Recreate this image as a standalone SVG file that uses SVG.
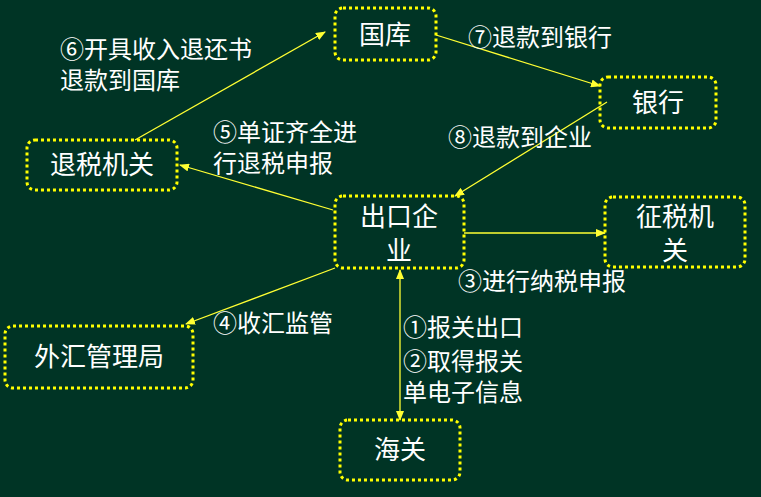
<svg xmlns="http://www.w3.org/2000/svg" width="761" height="497" viewBox="0 0 761 497">
<defs>
<marker id="ah" markerWidth="10" markerHeight="8" refX="9" refY="4" orient="auto" markerUnits="userSpaceOnUse"><path d="M0,0 L10,4 L0,8 Z" fill="#ffff33"/></marker>
<marker id="as" markerWidth="10" markerHeight="8" refX="1" refY="4" orient="auto" markerUnits="userSpaceOnUse"><path d="M10,0 L0,4 L10,8 Z" fill="#ffff33"/></marker>
<style>
.n{fill:none;stroke:#ffff00;stroke-width:3;stroke-dasharray:3 3}
.t{fill:#fff;font-family:"Noto Sans CJK SC",sans-serif;font-size:26px;text-anchor:middle}
.l{fill:#fff;font-family:"Noto Sans CJK SC",sans-serif;font-size:24px}
.c line{stroke:#ffff33;stroke-width:1.3;marker-end:url(#ah)}
</style>
</defs>
<rect width="761" height="497" fill="#003425"/>
<g class="c" id="connectors">
<line x1="135" y1="140" x2="325" y2="32"/>
<line x1="436" y1="35" x2="600" y2="86"/>
<line x1="607" y1="102" x2="455" y2="196"/>
<line x1="333" y1="210" x2="180" y2="165"/>
<line x1="464" y1="233" x2="605" y2="233"/>
<line x1="335" y1="268" x2="186" y2="324"/>
<line x1="400" y1="270" x2="400" y2="420" marker-start="url(#as)"/>
</g>
<g id="guoku"><rect class="n" x="335" y="8" width="101" height="52" rx="8"/><text class="t" x="385" y="44">国库</text></g>
<g id="yinhang"><rect class="n" x="600" y="77" width="116" height="51" rx="8"/><text class="t" x="658" y="112">银行</text></g>
<g id="tuishui"><rect class="n" x="27" y="140" width="150" height="50" rx="8"/><text class="t" x="102" y="174">退税机关</text></g>
<g id="chukou"><rect class="n" x="335" y="196" width="129" height="72" rx="8"/><text class="t" x="399" y="226">出口企</text><text class="t" x="399" y="260">业</text></g>
<g id="zhengshui"><rect class="n" x="605" y="197" width="140" height="70" rx="8"/><text class="t" x="675" y="226">征税机</text><text class="t" x="675" y="260">关</text></g>
<g id="waihui"><rect class="n" x="5" y="326" width="188" height="62" rx="8"/><text class="t" x="99" y="366">外汇管理局</text></g>
<g id="haiguan"><rect class="n" x="340" y="420" width="120" height="60" rx="8"/><text class="t" x="400" y="459">海关</text></g>
<g id="labels">
<text class="l" x="60" y="58">⑥开具收入退还书</text>
<text class="l" x="60" y="89">退款到国库</text>
<text class="l" x="468" y="46">⑦退款到银行</text>
<text class="l" x="448" y="146">⑧退款到企业</text>
<text class="l" x="213" y="141">⑤单证齐全进</text>
<text class="l" x="213" y="172">行退税申报</text>
<text class="l" x="458" y="290">③进行纳税申报</text>
<text class="l" x="213" y="332">④收汇监管</text>
<text class="l" x="403" y="336">①报关出口</text>
<text class="l" x="403" y="370">②取得报关</text>
<text class="l" x="403" y="401">单电子信息</text>
</g>
</svg>
